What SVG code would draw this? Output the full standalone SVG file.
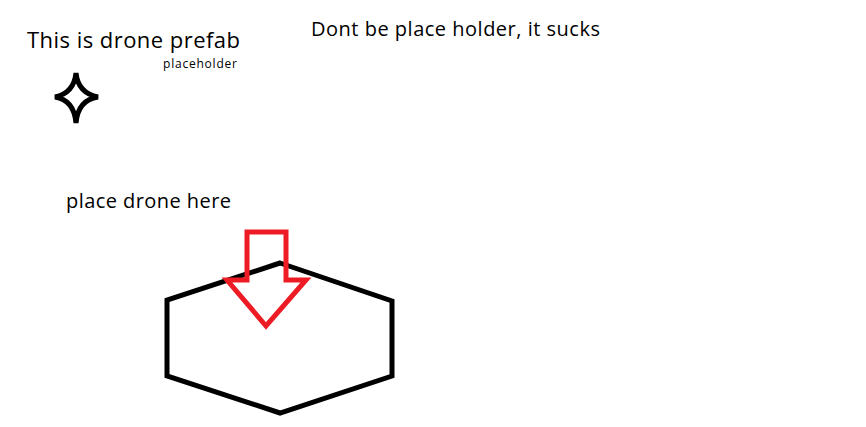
<svg xmlns="http://www.w3.org/2000/svg" width="866" height="427" viewBox="0 0 866 427">
<style>
text{font-family:"Open Sans","Noto Sans","DejaVu Sans",sans-serif;fill:#000}
.shape{fill:none;stroke-linejoin:miter}
</style>
<rect width="866" height="427" fill="#fff"/>
<g id="title"><text x="27" y="48" font-size="22" textLength="213">This is drone prefab</text></g>
<g id="placeholder-label"><text x="163" y="68" font-size="12" textLength="74">placeholder</text></g>
<g id="note"><text x="311" y="36" font-size="20" textLength="289">Dont be place holder, it sucks</text></g>
<g id="star"><path class="shape" stroke="#000" stroke-width="5" d="M76,73 Q78,93 98,97 Q78,100 76,123 Q74,100 55,97 Q74,93 76,73 Z"/></g>
<g id="place-label"><text x="66" y="208" font-size="20" textLength="165">place drone here</text></g>
<g id="hexagon"><polygon class="shape" stroke="#000" stroke-width="5" points="280,263 392,301 392,376 280,413 167,376 167,300"/></g>
<g id="connectors"><polygon class="shape" stroke="#ed1c24" stroke-width="5" points="247,232 286,232 286,280 306,280 266,326 227,280 247,280"/></g>
</svg>
